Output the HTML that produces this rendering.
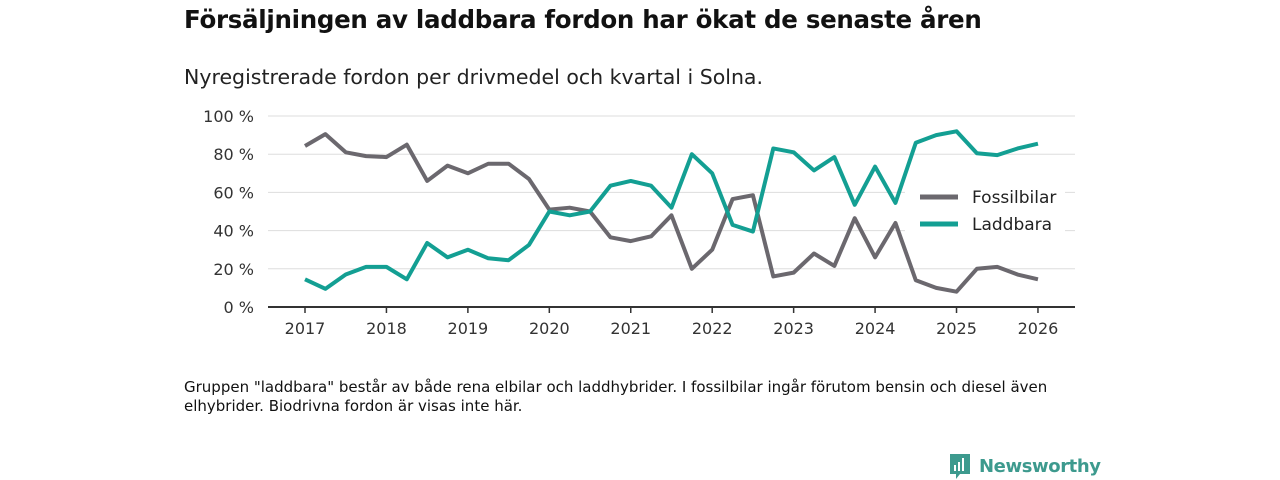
<!DOCTYPE html>
<html><head><meta charset="utf-8"><style>
body{margin:0;width:1280px;height:480px;background:#fff;font-family:"DejaVu Sans","Liberation Sans",sans-serif;color:#111;position:relative;overflow:hidden}
.t{position:absolute;left:184px;top:5px;font-size:24.5px;font-weight:bold;letter-spacing:-0.3px}
.s{position:absolute;left:184px;top:65px;font-size:20.5px;color:#222}
.n{position:absolute;left:184px;top:378px;font-size:15px;line-height:19px;width:870px;color:#111}
.logo{position:absolute;left:948px;top:452px;display:flex;align-items:center;font-size:18px;font-weight:bold;color:#3d9a8e;letter-spacing:-0.4px}
svg text{font-family:"DejaVu Sans","Liberation Sans",sans-serif}
</style></head><body>
<div class="t">Försäljningen av laddbara fordon har ökat de senaste åren</div>
<div class="s">Nyregistrerade fordon per drivmedel och kvartal i Solna.</div>
<svg id="c" width="1280" height="480" style="position:absolute;left:0;top:0"></svg>
<div class="n">Gruppen "laddbara" består av både rena elbilar och laddhybrider. I fossilbilar ingår förutom bensin och diesel även elhybrider. Biodrivna fordon är visas inte här.</div>
<div class="logo"><svg width="24" height="28" viewBox="0 0 24 28"><path d="M2 2h20v20H12l-4 5v-5H2z" fill="#3d9a8e"/><rect x="6" y="13" width="2" height="6" fill="#fff"/><rect x="10" y="10" width="2" height="9" fill="#fff"/><rect x="14" y="6" width="2" height="13" fill="#fff"/></svg><span style="margin-left:7px">Newsworthy</span></div>
<script>
const years=[2017,2018,2019,2020,2021,2022,2023,2024,2025,2026];
const yTicks=[0,20,40,60,80,100];
const fossil=[84.3,90.5,81,79,78.5,85,66,74,70,75,75,67,51,52,50,36.5,34.5,37,48,20,30,56.5,58.5,16,18,28,21.5,46.5,26,44,14,10,8,20,21,17,14.5];
const laddbara=[14.5,9.5,17,21,21,14.5,33.5,26,30,25.5,24.5,32.5,50,48,50,63.5,66,63.5,52,80,70,43,39.5,83,81,71.5,78.5,53.5,73.5,54.5,86,90,92,80.5,79.5,83,85.5];
const NS="http://www.w3.org/2000/svg",svg=document.getElementById('c');
const x=v=>305+(v-2017)*81.44, y=v=>307-v*1.91;
function mk(t,a,p){const e=document.createElementNS(NS,t);for(const k in a)e.setAttribute(k,a[k]);(p||svg).appendChild(e);return e;}
yTicks.forEach(v=>{
 if(v>0){const g=mk('line',{x1:268,x2:1075,y1:y(v),y2:y(v),stroke:'#ddd','stroke-width':1});
 
 }
 const t=mk('text',{x:254,y:y(v)+6,'text-anchor':'end','font-size':16,fill:'#333'});t.textContent=v+' %';
 
 
});
const ax=mk('line',{x1:268,x2:1075,y1:307,y2:307,stroke:'#333','stroke-width':2});


years.forEach(v=>{
 mk('line',{x1:x(v),x2:x(v),y1:307,y2:313,stroke:'#333','stroke-width':1.5});
 const t=mk('text',{x:x(v),y:334,'text-anchor':'middle','font-size':16,fill:'#333'});t.textContent=v;
 
 
});
const lb=mk('rect',{x:905,y:178,width:160,height:62,fill:'#fff'});


function line(d,col,name){
 const p=mk('polyline',{points:d.map((v,i)=>x(2017+i/4)+','+y(v)).join(' '),fill:'none',stroke:col,'stroke-width':4,'stroke-linejoin':'round'});
 
 
}
line(fossil,'#6b686e','fossilbilar-line');
line(laddbara,'#139f93','laddbara-line');
[['Fossilbilar','#6b686e',197],['Laddbara','#139f93',224]].forEach(([n,c,yy])=>{
 const g=mk('g',{});
 
 
 mk('line',{x1:920,x2:958,y1:yy,y2:yy,stroke:c,'stroke-width':5},g);
 const t=mk('text',{x:972,y:yy+6,'font-size':17,fill:'#222'},g);t.textContent=n;
});
</script>
</body></html>
